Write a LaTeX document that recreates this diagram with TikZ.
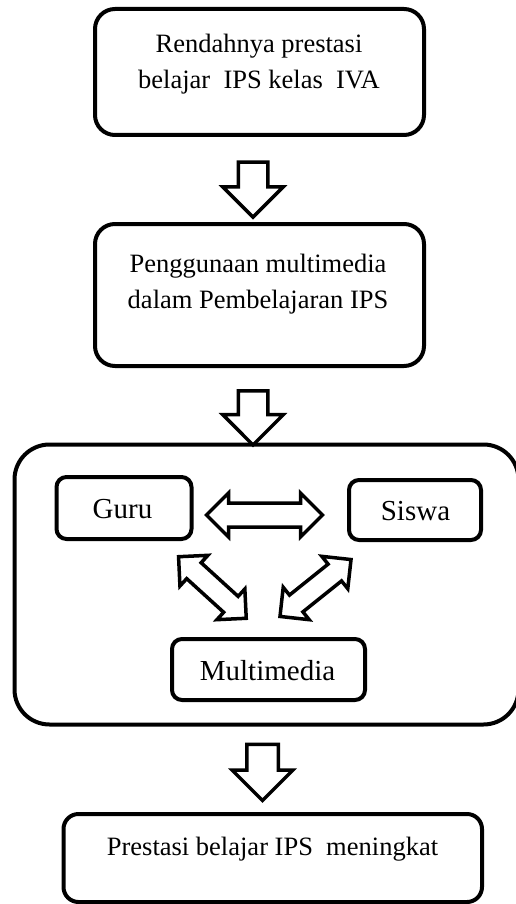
\documentclass[tikz,border=0pt]{standalone}
\usepackage{fontspec}
\setmainfont{Liberation Serif}
\usetikzlibrary{shapes.arrows}
\begin{document}
\begin{tikzpicture}[x=1pt,y=-1pt,
  box/.style={draw, line width=4pt, rounded corners=#1, inner sep=0pt},
  box/.default=20pt,
  txt/.style={inner sep=0pt, align=center, font=\fontsize{26.5}{36}\selectfont},
  txtb/.style={inner sep=0pt, align=center, font=\fontsize{29}{36}\selectfont},
  downarrow/.style={single arrow, draw, line width=3.5pt, text height=0pt, text depth=0pt,
    inner xsep=0pt, inner ysep=13pt, minimum width=0pt, single arrow head extend=15.5pt,
    single arrow tip angle=90, rotate=-90},
  duoarrow/.style={double arrow, draw, line width=3.5pt, text height=0pt, text depth=0pt,
    inner xsep=0pt, minimum width=0pt, double arrow tip angle=90}]
\useasboundingbox (0,0) rectangle (515,904);

% main boxes
\node[box, minimum width=329pt, minimum height=126pt] (b1) at (259.5,72) {};
\node[txt] (t1) at (259,63.85) {Rendahnya prestasi\\belajar\ \ IPS kelas\ \ IVA};

\node[box, minimum width=329pt, minimum height=142pt] (b2) at (259.5,295) {};
\node[txt] (t2) at (258,284.4) {Penggunaan multimedia\\dalam Pembelajaran IPS};

\node[box=35pt, minimum width=504pt, minimum height=280pt] (big) at (266.5,584.5) {};

\node[box=10pt, minimum width=135pt, minimum height=62pt] (guru) at (124,508) {};
\node[txtb, anchor=base] (tguru) at (122.5,518) {Guru};

\node[box=10pt, minimum width=132pt, minimum height=60pt] (siswa) at (415,510) {};
\node[txtb, anchor=base] (tsiswa) at (415.5,520) {Siswa};

\node[box=10pt, minimum width=193pt, minimum height=61pt] (multi) at (268.5,669.5) {};
\node[txtb, anchor=base] (tmulti) at (267.5,680) {Multimedia};

\node[box=15pt, minimum width=418.5pt, minimum height=88pt] (b4) at (272.75,858) {};
\node[txt, anchor=base] (t4) at (272.5,855) {Prestasi belajar IPS\ \ meningkat};

% hollow down arrows
\node[downarrow, minimum height=55pt] (a1) at (253,182.3) {};
\node[downarrow, minimum height=54pt] (a2) at (253,410.6) {};
\node[downarrow, minimum height=56pt, inner ysep=14pt, single arrow head extend=14.5pt] (a3) at (262.5,764.6) {};

% double arrows
\node[duoarrow, minimum height=116pt, inner ysep=10.25pt, double arrow head extend=10pt] (gs) at (264.5,515) {};
\node[duoarrow, minimum height=91.5pt, inner ysep=9pt, double arrow head extend=10pt, rotate=-42.3] (gm) at (212.4,587.5) {};
\node[duoarrow, minimum height=91pt, inner ysep=9pt, double arrow head extend=10pt, rotate=38.7] (sm) at (315.5,588) {};
\end{tikzpicture}
\end{document}
